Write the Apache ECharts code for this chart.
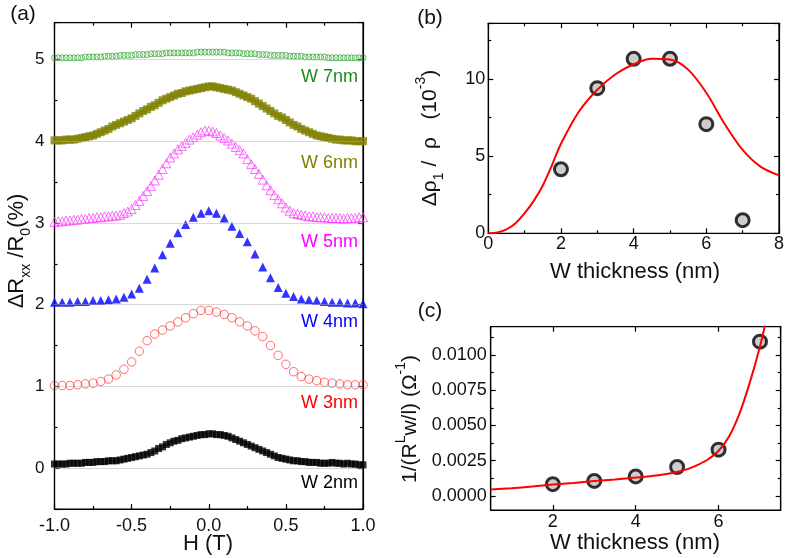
<!DOCTYPE html>
<html>
<head>
<meta charset="utf-8">
<script src="https://cdn.jsdelivr.net/npm/echarts@6/dist/echarts.min.js"></script>
<style>
html,body{margin:0;padding:0;background:#fff;}
#chart{width:787px;height:558px;}
</style>
</head>
<body>
<div id="chart"></div>
<script>
// ---------- Panel (a): field sweeps ----------
const H_fine = [-1,-0.975,-0.95,-0.925,-0.9,-0.875,-0.85,-0.825,-0.8,-0.775,-0.75,-0.725,-0.7,-0.675,-0.65,-0.625,-0.6,-0.575,-0.55,-0.525,-0.5,-0.475,-0.45,-0.425,-0.4,-0.375,-0.35,-0.325,-0.3,-0.275,-0.25,-0.225,-0.2,-0.175,-0.15,-0.125,-0.1,-0.075,-0.05,-0.025,0,0.025,0.05,0.075,0.1,0.125,0.15,0.175,0.2,0.225,0.25,0.275,0.3,0.325,0.35,0.375,0.4,0.425,0.45,0.475,0.5,0.525,0.55,0.575,0.6,0.625,0.65,0.675,0.7,0.725,0.75,0.775,0.8,0.825,0.85,0.875,0.9,0.925,0.95,0.975,1];
const H_coarse = [-1,-0.95,-0.9,-0.85,-0.8,-0.75,-0.7,-0.65,-0.6,-0.55,-0.5,-0.45,-0.4,-0.35,-0.3,-0.25,-0.2,-0.15,-0.1,-0.05,0,0.05,0.1,0.15,0.2,0.25,0.3,0.35,0.4,0.45,0.5,0.55,0.6,0.65,0.7,0.75,0.8,0.85,0.9,0.95,1];

const w2nm = [0.05,0.05,0.05,0.05,0.06,0.06,0.06,0.06,0.07,0.07,
  0.07,0.08,0.08,0.08,0.09,0.09,0.09,0.10,0.11,0.12,
  0.13,0.14,0.15,0.16,0.17,0.19,0.21,0.24,0.26,0.29,
  0.31,0.33,0.34,0.36,0.37,0.38,0.39,0.40,0.41,0.41,
  0.42,
  0.42,0.41,0.41,0.40,0.39,0.37,0.35,0.33,0.31,0.29,
  0.27,0.25,0.23,0.21,0.19,0.17,0.15,0.13,0.12,0.11,
  0.10,0.09,0.09,0.08,0.08,0.07,0.07,0.07,0.06,0.06,
  0.06,0.07,0.06,0.06,0.05,0.06,0.05,0.05,0.04,0.04];
const w3nm = [1.01,1.01,1.01,1.02,1.03,1.04,1.06,1.09,1.14,1.21,
  1.30,1.43,1.56,1.64,1.69,1.74,1.79,1.84,1.89,1.93,
  1.93,
  1.91,1.88,1.84,1.79,1.74,1.68,1.61,1.50,1.38,1.27,
  1.18,1.12,1.09,1.07,1.05,1.04,1.03,1.02,1.02,1.02];
const w4nm = [2.03,2.03,2.03,2.04,2.04,2.05,2.05,2.06,2.07,2.09,
  2.13,2.20,2.31,2.45,2.61,2.75,2.88,2.98,3.07,3.12,
  3.15,
  3.12,3.06,2.96,2.87,2.77,2.62,2.46,2.33,2.21,2.14,
  2.10,2.07,2.06,2.05,2.04,2.03,2.03,2.02,2.02,2.01];
const w5nm = [3.01,3.02,3.02,3.03,3.03,3.04,3.04,3.05,3.05,3.06,
  3.06,3.07,3.07,3.08,3.08,3.09,3.09,3.10,3.12,3.14,
  3.17,3.22,3.27,3.33,3.39,3.45,3.52,3.59,3.66,3.73,
  3.80,3.85,3.90,3.94,3.98,4.02,4.05,4.08,4.11,4.13,
  4.13,
  4.12,4.10,4.07,4.04,4.01,3.97,3.93,3.89,3.85,3.78,
  3.72,3.66,3.60,3.53,3.46,3.40,3.34,3.29,3.24,3.19,
  3.15,3.12,3.11,3.10,3.09,3.08,3.08,3.07,3.07,3.07,
  3.06,3.06,3.06,3.06,3.05,3.06,3.06,3.06,3.07,3.07];
const w6nm = [4.01,4.01,4.01,4.02,4.02,4.02,4.03,4.04,4.05,4.06,
  4.07,4.09,4.11,4.13,4.15,4.18,4.20,4.22,4.24,4.26,
  4.28,4.31,4.34,4.37,4.39,4.42,4.44,4.47,4.50,4.52,
  4.54,4.56,4.58,4.59,4.61,4.62,4.63,4.64,4.65,4.66,
  4.67,
  4.67,4.66,4.65,4.64,4.63,4.62,4.60,4.58,4.56,4.54,
  4.52,4.49,4.46,4.43,4.40,4.37,4.34,4.31,4.29,4.26,
  4.23,4.20,4.18,4.15,4.13,4.11,4.09,4.07,4.06,4.05,
  4.04,4.03,4.02,4.02,4.01,4.01,4.01,4.00,4.00,4.00];
const w7nm = [5.02,5.02,5.02,5.02,5.02,5.02,5.02,5.02,5.03,5.03,
  5.03,5.03,5.03,5.04,5.04,5.04,5.04,5.05,5.05,5.05,
  5.05,5.06,5.06,5.06,5.06,5.07,5.07,5.07,5.07,5.08,
  5.08,5.08,5.08,5.08,5.08,5.08,5.08,5.09,5.09,5.09,
  5.09,
  5.09,5.09,5.09,5.09,5.08,5.08,5.08,5.08,5.07,5.07,
  5.07,5.07,5.06,5.06,5.06,5.05,5.05,5.05,5.05,5.05,
  5.04,5.04,5.04,5.04,5.03,5.03,5.03,5.03,5.03,5.03,
  5.02,5.02,5.02,5.02,5.02,5.02,5.02,5.02,5.02,5.02];
const refLevels = [0,1,2,3,4,5];
const seriesLabels = ['W 2nm','W 3nm','W 4nm','W 5nm','W 6nm','W 7nm'];
const aXTicks = ['-1.0','-0.5','0.0','0.5','1.0'];

// ---------- Panel (b) ----------
const thickness = [2,3,4,5,6,7];
const dRho = [4.15,9.4,11.3,11.3,7.07,0.85];
const fitBx = [0,0.25,0.5,0.75,1,1.25,1.5,1.75,2,2.5,3,3.5,4,4.5,5,5.5,6,6.5,7,7.5,8];
const fitBy = [0,0.05,0.25,0.65,1.3,2.1,3.1,4.4,5.8,7.9,9.3,10.3,10.95,11.3,11.25,10.6,9.1,7.1,5.4,4.3,3.75];

// ---------- Panel (c) ----------
const invR = [0.00083,0.00106,0.00138,0.00205,0.00328,0.01094];
const fitCx = [0.5,1,1.5,2,2.5,3,3.5,4,4.5,5,5.25,5.5,5.75,6,6.25,6.5,6.75,7,7.15];
const fitCy = [0.00045,0.00055,0.00066,0.00080,0.00092,0.00105,0.00117,0.0013,0.00145,0.0017,0.0019,0.0022,0.0026,0.0032,0.0042,0.0058,0.0080,0.0106,0.0125];
const cYTicks = [0,0.0025,0.005,0.0075,0.01];
const cYMinor = [0.00125,0.00375,0.00625,0.00875,0.01125];

const FONT = '"Liberation Sans", Arial, sans-serif';
const pair = (xs, ys) => xs.map((x, i) => [x, ys[i]]);

function baseAxis(o) {
  return Object.assign({
    type: 'value',
    axisLine: {show: true, onZero: false, lineStyle: {color: '#000', width: 1.2}},
    axisTick: {show: true, inside: true, length: 5, lineStyle: {color: '#000', width: 1.2}},
    minorTick: {show: false},
    splitLine: {show: false},
    axisLabel: {show: false}
  }, o);
}
function lbl(o) {
  return Object.assign({show: true, color: '#111', fontFamily: FONT, fontSize: 18}, o);
}
const minor2 = {show: true, splitNumber: 2, length: 3, lineStyle: {color: '#000', width: 1.2}};

const chart = echarts.init(document.getElementById('chart'), null, {renderer: 'canvas'});

const grids = [
  {left: 54.5, top: 22.7, width: 308.5, height: 486.3},
  {left: 488.3, top: 23.3, width: 292.4, height: 210},
  {left: 490.7, top: 326.7, width: 290, height: 183.3}
].map(g => Object.assign({show: true, borderColor: '#000', borderWidth: 1.2, backgroundColor: 'transparent', containLabel: false}, g));

const xAxes = [
  baseAxis({gridIndex: 0, position: 'bottom', min: -1, max: 1, interval: 0.5, minorTick: minor2,
    axisLabel: lbl({margin: 8, formatter: v => aXTicks[Math.round((v + 1) / 0.5)]})}),
  baseAxis({gridIndex: 0, position: 'top', min: -1, max: 1, interval: 0.5, minorTick: minor2}),
  baseAxis({gridIndex: 1, position: 'bottom', min: 0, max: 8, interval: 2, minorTick: minor2,
    axisLabel: lbl({margin: 2})}),
  baseAxis({gridIndex: 1, position: 'top', min: 0, max: 8, interval: 2, minorTick: minor2}),
  baseAxis({gridIndex: 2, position: 'bottom', min: 0.5, max: 7.5, splitNumber: 4,
    axisLabel: lbl({margin: 3, showMinLabel: false, showMaxLabel: false})}),
  baseAxis({gridIndex: 2, position: 'top', min: 0.5, max: 7.5, splitNumber: 4})
];
const yAxes = [
  baseAxis({gridIndex: 0, position: 'left', min: -0.5, max: 5.45, splitNumber: 6, minorTick: minor2,
    axisLabel: lbl({margin: 10, fontSize: 17, showMinLabel: false, showMaxLabel: false})}),
  baseAxis({gridIndex: 0, position: 'right', min: -0.5, max: 5.45, splitNumber: 6, minorTick: minor2}),
  baseAxis({gridIndex: 1, position: 'left', min: 0, max: 13.6, interval: 5, minorTick: minor2,
    axisLabel: lbl({margin: 3, showMaxLabel: false})}),
  baseAxis({gridIndex: 1, position: 'right', min: 0, max: 13.6, interval: 5, minorTick: minor2}),
  baseAxis({gridIndex: 2, position: 'left', min: -0.001, max: 0.012,
    axisTick: {show: true, inside: true, length: 5, customValues: cYTicks, lineStyle: {color: '#000', width: 1.2}},
    axisLabel: lbl({margin: 4, customValues: cYTicks, formatter: v => v.toFixed(4)})}),
  baseAxis({gridIndex: 2, position: 'right', min: -0.001, max: 0.012,
    axisTick: {show: true, inside: true, length: 5, customValues: cYTicks, lineStyle: {color: '#000', width: 1.2}}}),
  baseAxis({gridIndex: 2, position: 'left', min: -0.001, max: 0.012, axisLine: {show: false},
    axisTick: {show: true, inside: true, length: 3, customValues: cYMinor, lineStyle: {color: '#000', width: 1.2}}}),
  baseAxis({gridIndex: 2, position: 'right', min: -0.001, max: 0.012, axisLine: {show: false},
    axisTick: {show: true, inside: true, length: 3, customValues: cYMinor, lineStyle: {color: '#000', width: 1.2}}})
];

const openStyle = c => ({color: 'rgba(255,255,255,0)', borderColor: c, borderWidth: 0.9});
const series = [
  {type: 'scatter', xAxisIndex: 0, yAxisIndex: 0, data: pair(H_fine, w7nm), symbol: 'circle', symbolSize: 6, itemStyle: openStyle('#2aa02a'),
    markLine: {silent: true, symbol: 'none', label: {show: false}, lineStyle: {color: '#b0b0b0', type: 'dotted', width: 1},
      data: refLevels.map(v => ({yAxis: v}))}},
  {type: 'scatter', xAxisIndex: 0, yAxisIndex: 0, data: pair(H_fine, w5nm), symbol: 'triangle', symbolSize: 9, itemStyle: openStyle('#ff33ff')},
  {type: 'scatter', xAxisIndex: 0, yAxisIndex: 0, data: pair(H_fine, w6nm), symbol: 'rect', symbolSize: 8, itemStyle: {color: '#808000'}},
  {type: 'scatter', xAxisIndex: 0, yAxisIndex: 0, data: pair(H_coarse, w3nm), symbol: 'circle', symbolSize: 8.5, itemStyle: openStyle('#ff3333')},
  {type: 'scatter', xAxisIndex: 0, yAxisIndex: 0, data: pair(H_coarse, w4nm), symbol: 'triangle', symbolSize: 9, itemStyle: {color: '#0000ff'}},
  {type: 'scatter', xAxisIndex: 0, yAxisIndex: 0, data: pair(H_fine, w2nm), symbol: 'rect', symbolSize: 7, itemStyle: {color: '#000'}},
  {type: 'scatter', xAxisIndex: 2, yAxisIndex: 2, data: pair(thickness, dRho), symbol: 'circle', symbolSize: 13,
    itemStyle: {color: '#c0c0c0', borderColor: '#000', borderWidth: 3}},
  {type: 'line', xAxisIndex: 2, yAxisIndex: 2, data: pair(fitBx, fitBy), smooth: 0.3, showSymbol: false,
    lineStyle: {color: '#ff0000', width: 2}},
  {type: 'scatter', xAxisIndex: 4, yAxisIndex: 4, data: pair(thickness, invR), symbol: 'circle', symbolSize: 13,
    itemStyle: {color: '#c0c0c0', borderColor: '#000', borderWidth: 3}},
  {type: 'line', xAxisIndex: 4, yAxisIndex: 4, data: pair(fitCx, fitCy), smooth: 0.3, showSymbol: false, clip: true,
    lineStyle: {color: '#ff0000', width: 2}}
];

const labelColors = ['#000000','#ff0000','#0000ff','#ff00ff','#808000','#1a8c1a'];
const labelY = [483.3, 403.3, 322.3, 242.3, 162.7, 76.7];
const txt = (x, y, text, extra, styleExtra) => Object.assign({
  type: 'text', x, y, silent: true,
  style: Object.assign({text, fill: '#111', font: '18px ' + FONT, align: 'center', verticalAlign: 'middle',
    textAlign: 'center', textVerticalAlign: 'middle'}, styleExtra || {})
}, extra || {});

const graphics = [
  txt(23, 14, '(a)', null, {font: '21px ' + FONT}),
  txt(430, 18, '(b)', null, {font: '21px ' + FONT}),
  txt(430, 311, '(c)', null, {font: '21px ' + FONT}),
  txt(208, 544, 'H (T)', null, {font: '22px ' + FONT}),
  txt(635, 272, 'W thickness (nm)', null, {font: '22px ' + FONT}),
  txt(635, 543, 'W thickness (nm)', null, {font: '22px ' + FONT}),
  txt(17, 251, '{m|ΔR}{sub|xx}{m| /R}{sub|0}{m|(%)}', {rotation: Math.PI / 2}, {
    rich: {m: {fontSize: 22, lineHeight: 32, fontFamily: FONT, fill: '#111', color: '#111'},
           sub: {fontSize: 14, lineHeight: 16, verticalAlign: 'bottom', fontFamily: FONT, fill: '#111', color: '#111'}}}),
  txt(430, 138, '{m|Δρ}{sub|1}{m| /  ρ   (10}{sup|-3}{m|)}', {rotation: Math.PI / 2}, {
    rich: {m: {fontSize: 21, lineHeight: 32, fontFamily: FONT, fill: '#111', color: '#111'},
           sub: {fontSize: 14, lineHeight: 16, verticalAlign: 'bottom', fontFamily: FONT, fill: '#111', color: '#111'},
           sup: {fontSize: 14, lineHeight: 16, verticalAlign: 'top', fontFamily: FONT, fill: '#111', color: '#111'}}}),
  txt(410, 419, '{m|1/(R}{sup|L}{m|w/l) (Ω}{sup|-1}{m|)}', {rotation: Math.PI / 2}, {
    rich: {m: {fontSize: 21, lineHeight: 32, fontFamily: FONT, fill: '#111', color: '#111'},
           sup: {fontSize: 14, lineHeight: 16, verticalAlign: 'top', fontFamily: FONT, fill: '#111', color: '#111'}}})
];
seriesLabels.forEach((s, i) => {
  graphics.push(txt(358, labelY[i], s, null, {fill: labelColors[i], align: 'right', textAlign: 'right', font: '18px ' + FONT}));
});

chart.setOption({
  animation: false,
  backgroundColor: '#fff',
  grid: grids,
  xAxis: xAxes,
  yAxis: yAxes,
  series: series,
  graphic: graphics
});
</script>
</body>
</html>
